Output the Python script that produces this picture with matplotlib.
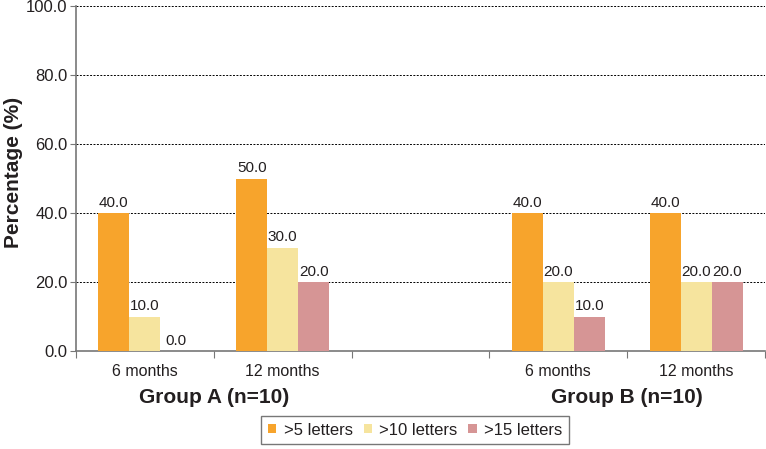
import matplotlib.pyplot as plt
import numpy as np

# data
categories = ['6 months', '12 months', '', '6 months', '12 months']
groups = ['Group A (n=10)', 'Group B (n=10)']
series_names = ['>5 letters', '>10 letters', '>15 letters']
over5 = [40.0, 50.0, None, 40.0, 40.0]
over10 = [10.0, 30.0, None, 20.0, 20.0]
over15 = [0.0, 20.0, None, 10.0, 20.0]
colors = ['#F7A42C', '#F6E49E', '#D69595']

plt.rcParams['font.family'] = ['Liberation Sans', 'DejaVu Sans']
plt.rcParams['text.color'] = '#231F20'

fig = plt.figure(figsize=(7.66, 4.49), dpi=100)
ax = fig.add_axes([0.0992, 0.218, 0.8995, 0.7686])

x = np.arange(len(categories))
w = 0.225
for i, (vals, c, name) in enumerate(zip([over5, over10, over15], colors, series_names)):
    xs = [xx for xx, v in zip(x, vals) if v is not None]
    vs = [v for v in vals if v is not None]
    pos = np.array(xs) + (i - 1) * w
    ax.bar(pos, vs, width=w, color=c, label=name, zorder=3)
    for p, v in zip(pos, vs):
        ax.text(p, v + 1.0, f'{v:.1f}', ha='center', va='bottom',
                fontsize=11, color='#231F20', zorder=4)

ax.set_xlim(-0.5, len(categories) - 0.5)
ax.set_ylim(0, 100)
ax.set_yticks(np.arange(0, 101, 20))
ax.set_yticklabels([f'{v:.1f}' for v in np.arange(0, 101, 20)], fontsize=12,
                   color='#231F20')
for yv in np.arange(20, 101, 20):
    ax.axhline(yv, color='black', lw=0.7, ls=(0, (2, 1.5)), zorder=1)

# tick marks between categories, labels at centres
ax.set_xticks(np.arange(-0.5, len(categories)), minor=False)
ax.set_xticklabels([])
ax.set_xticks(x, minor=True)
ax.set_xticklabels(categories, minor=True, fontsize=11.5, color='#231F20')
ax.tick_params(axis='x', which='minor', length=0, pad=9)
ax.tick_params(axis='x', which='major', length=5, color='#777777')
ax.tick_params(axis='y', length=4, color='#777777', pad=2)

for s in ['top', 'right']:
    ax.spines[s].set_visible(False)
for s in ['left', 'bottom']:
    ax.spines[s].set_color('#777777')
    ax.spines[s].set_linewidth(1.2)

fig.text(0.017, 0.615, 'Percentage (%)', rotation=90, ha='center', va='center',
         fontsize=15, fontweight='bold')

for gx, g in zip([0.5, 3.5], groups):
    ax.text(gx, -13.5, g, ha='center', va='center', fontsize=15,
            fontweight='bold', transform=ax.transData)

leg = fig.legend(loc='center', bbox_to_anchor=(0.542, 0.042), ncol=3,
                 frameon=True, fancybox=False, edgecolor='#555555',
                 fontsize=12, handlelength=0.5, handleheight=0.5,
                 handletextpad=0.45, columnspacing=0.65, borderpad=0.4,
                 borderaxespad=0)
leg.get_frame().set_linewidth(1.0)

fig.savefig('out.png', dpi=100)
